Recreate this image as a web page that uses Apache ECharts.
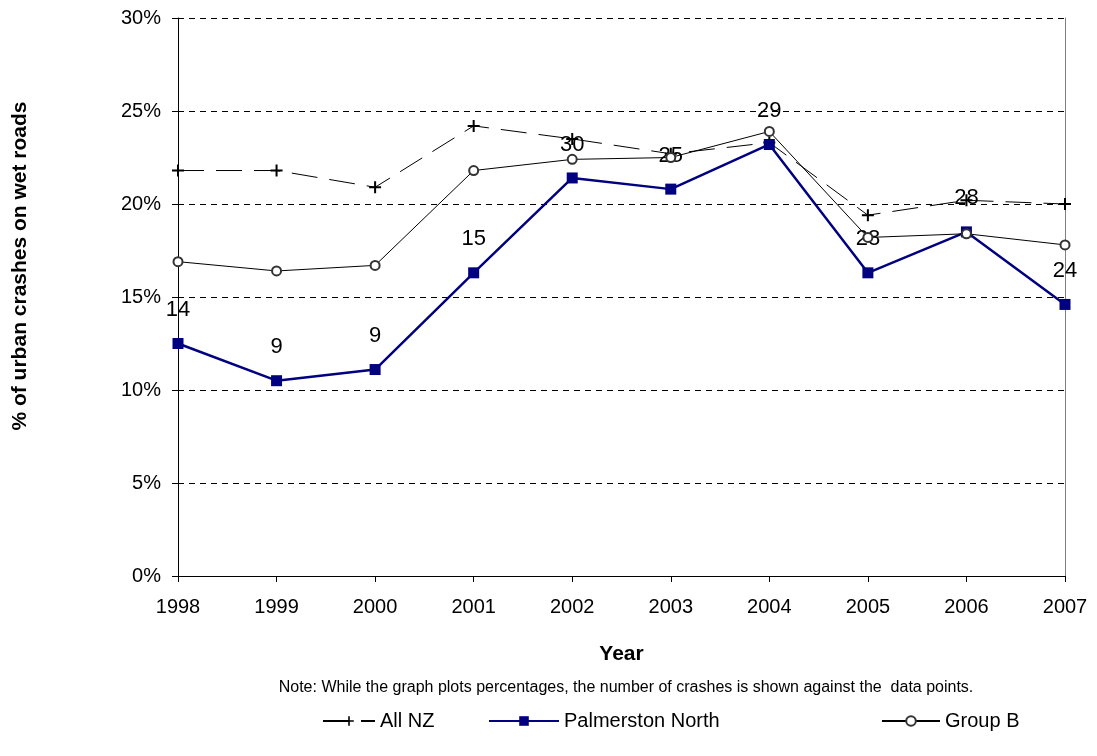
<!DOCTYPE html>
<html>
<head>
<meta charset="utf-8">
<script src="https://cdn.jsdelivr.net/npm/echarts@6/dist/echarts.min.js"></script>
<style>
html,body{margin:0;padding:0;background:#fff;}
#chart{width:1097px;height:756px;}
</style>
</head>
<body>
<div id="chart"></div>
<script>
const years = ['1998','1999','2000','2001','2002','2003','2004','2005','2006','2007'];
const allNZ = [21.8, 21.8, 20.9, 24.2, 23.5, 22.7, 23.3, 19.4, 20.2, 20.0];
const palmerstonNorth = [12.5, 10.5, 11.1, 16.3, 21.4, 20.8, 23.2, 16.3, 18.5, 14.6];
const groupB = [16.9, 16.4, 16.7, 21.8, 22.4, 22.5, 23.9, 18.2, 18.4, 17.8];
const crashCounts = [14, 9, 9, 15, 30, 25, 29, 28, 28, 24];
const yTicks = [0, 5, 10, 15, 20, 25, 30];

const FONT = '"Liberation Sans", Arial, sans-serif';
const plusPath = 'path://M5,0h2v12h-2zM0,5h12v2h-12z';

const chart = echarts.init(document.getElementById('chart'), null, {renderer: 'canvas'});
chart.setOption({
  animation: false,
  backgroundColor: '#ffffff',
  textStyle: {fontFamily: FONT, color: '#000'},
  grid: {left: 178, right: 32, top: 18, bottom: 180, containLabel: false},
  title: {
    text: 'Note: While the graph plots percentages, the number of crashes is shown against the  data points.',
    left: 621, top: 675, textAlign: 'center',
    textStyle: {fontFamily: FONT, fontSize: 16, fontWeight: 'normal', color: '#000'}
  },
  graphic: [{
    type: 'text', x: 20, y: 266, rotation: Math.PI / 2,
    style: {text: '% of urban crashes on wet roads', fontFamily: FONT, fontSize: 21,
      fontWeight: 'bold', fill: '#000', align: 'center', verticalAlign: 'middle'}
  }],
  legend: [
    {data: ['All NZ'], left: 317, top: 706, itemWidth: 52, itemHeight: 12, itemGap: 8,
     textStyle: {fontFamily: FONT, fontSize: 20, color: '#000'}},
    {data: ['Palmerston North'], left: 483, top: 706, itemWidth: 70, itemHeight: 12,
     textStyle: {fontFamily: FONT, fontSize: 20, color: '#000'}},
    {data: ['Group B'], left: 876, top: 706, itemWidth: 58, itemHeight: 12,
     textStyle: {fontFamily: FONT, fontSize: 20, color: '#000'}}
  ],
  xAxis: {
    type: 'category', data: years, boundaryGap: false,
    name: 'Year', nameLocation: 'middle', nameGap: 68,
    nameTextStyle: {fontFamily: FONT, fontSize: 21, fontWeight: 'bold', color: '#000'},
    axisLine: {lineStyle: {color: '#000', width: 1}},
    axisTick: {show: true, length: 6, lineStyle: {color: '#000'}},
    axisLabel: {fontFamily: FONT, fontSize: 20, color: '#000', margin: 21},
    splitLine: {show: false}
  },
  yAxis: [{
    type: 'value', min: 0, max: 30, interval: 5,
    axisLine: {show: true, lineStyle: {color: '#000', width: 1}},
    axisTick: {show: true, length: 6, lineStyle: {color: '#000'}},
    axisLabel: {fontFamily: FONT, fontSize: 20, color: '#000', margin: 17,
      formatter: v => yTicks.includes(v) ? v + '%' : ''},
    splitLine: {show: true, lineStyle: {color: '#000', type: [6, 5], width: 1}}
  }, {
    type: 'value', min: 0, max: 30, interval: 5, position: 'right',
    axisLine: {show: true, lineStyle: {color: '#808080', width: 1}},
    axisTick: {show: false}, axisLabel: {show: false}, splitLine: {show: false}
  }],
  series: [
    {
      name: 'All NZ', type: 'line', data: allNZ,
      symbol: plusPath, symbolSize: 12, showAllSymbol: true,
      itemStyle: {color: '#000'},
      lineStyle: {color: '#000', width: 1, type: [26, 12]},
      z: 2
    },
    {
      name: 'Palmerston North', type: 'line', data: palmerstonNorth,
      symbol: 'rect', symbolSize: 11,
      itemStyle: {color: '#000080'},
      lineStyle: {color: '#000080', width: 2.5},
      label: {show: true, position: 'top', distance: 17,
        fontFamily: FONT, fontSize: 22, color: '#000',
        formatter: p => String(crashCounts[p.dataIndex])},
      z: 3
    },
    {
      name: 'Group B', type: 'line', data: groupB,
      symbol: 'emptyCircle', symbolSize: 9,
      itemStyle: {color: '#333', borderColor: '#333', borderWidth: 1.5},
      lineStyle: {color: '#000', width: 1},
      z: 4
    }
  ]
});
</script>
</body>
</html>
